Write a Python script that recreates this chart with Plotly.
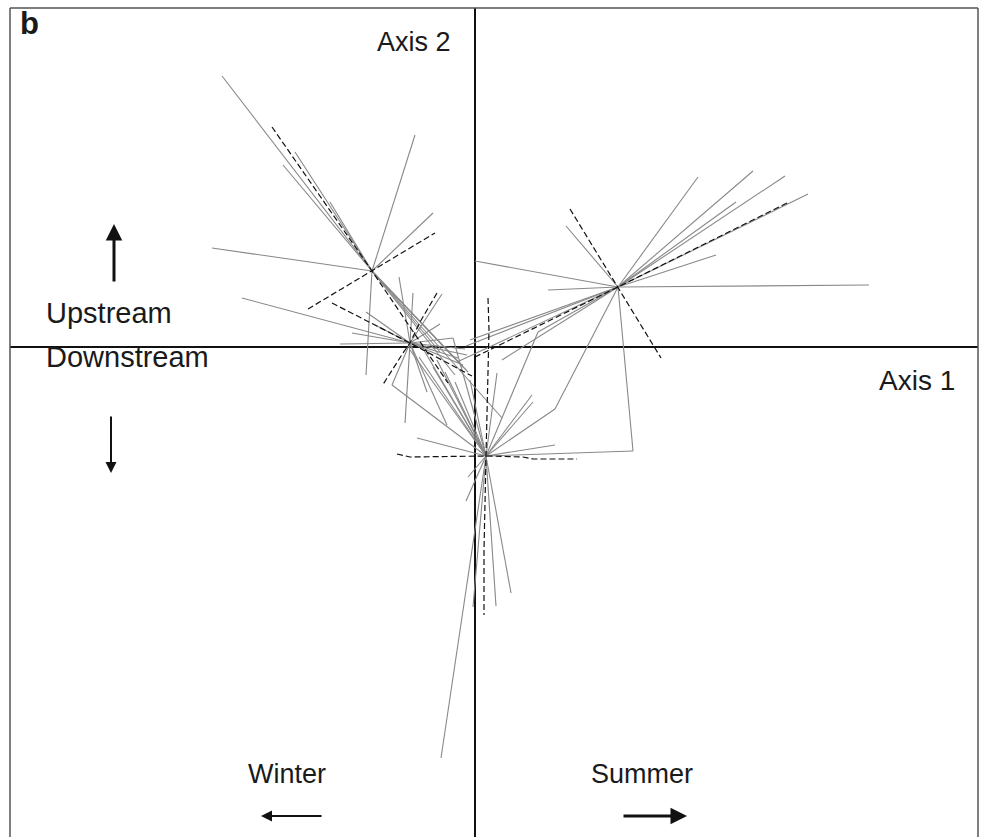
import plotly.graph_objects as go

# ---- group centroids (Axis 1, Axis 2 scores) ----
centre_names = ["A", "B", "C", "D"]
centre_x = [-1.03, -0.65, 1.43, 0.11]
centre_y = [0.76, 0.04, 0.60, -1.09]

# ---- sample scores linked to each centroid ----
a_x = [-2.53, -1.80, -1.92, -1.45, -0.60, -0.42, -2.63, -1.09, 0.27, -0.07, -0.35, -0.20, -0.12]
a_y = [2.71, 1.95, 1.82, 1.45, 2.12, 1.34, 0.99, -0.28, -0.71, -0.25, -0.05, -0.28, -0.20]

b_x = [-2.33, -1.35, -1.23, -1.09, -0.76, -0.62, -0.33, -0.35, -0.22, -0.70, -0.28, -0.12, -0.08, -0.83, -0.17,
       -0.48, -0.10, -1.00]
b_y = [0.49, 0.03, 0.14, 0.35, 0.70, 0.54, 0.53, 0.23, 0.09, -0.76, -0.78, -0.18, -0.08, -0.38, -0.11,
       -0.45, -0.02, 0.22]

c_x = [2.23, 2.78, 3.10, 2.61, 3.33, 2.41, 3.94, 0.73, 0.00, 0.91, 0.80, 1.58, -0.09, -0.18, 0.27, 0.63, -0.05]
c_y = [1.70, 1.76, 1.71, 1.45, 1.53, 0.92, 0.62, 0.57, 0.86, 1.21, -0.62, -1.04, 0.01, -0.15, -0.13, 0.15, 0.07]

d_x = [-0.58, -0.83, -0.65, -0.50, -0.38, -0.30, -0.20, -0.05, -0.22, 0.22, 0.63, 0.80, 1.58,
       0.57, 0.58, 0.80, -0.07, -0.09, -0.34, -0.02, 0.21, 0.36, -0.56, -0.42]
d_y = [-0.91, -0.38, -0.03, -0.05, -0.13, -0.25, -0.35, -0.33, 0.09, -0.26, 0.15, -0.62, -1.04,
       -0.48, -0.55, -0.98, -1.30, -1.54, -4.11, -2.60, -2.59, -2.46, -0.10, -0.20]

# ---- dashed ellipse axes (polylines) ----
axes_a1_x = [-2.03, -1.03, -0.27]; axes_a1_y = [2.20, 0.76, -0.36]
axes_a2_x = [-1.67, -1.03, -0.40]; axes_a2_y = [0.38, 0.76, 1.14]
axes_b1_x = [-1.43, -0.65, -0.03]; axes_b1_y = [0.44, 0.04, -0.29]
axes_b2_x = [-0.38, -0.55, -0.65, -0.72, -0.93]; axes_b2_y = [0.54, 0.25, 0.04, -0.06, -0.39]
axes_c1_x = [3.12, 1.43, -0.02]; axes_c1_y = [1.44, 0.60, -0.11]
axes_c2_x = [0.95, 1.43, 1.86]; axes_c2_y = [1.38, 0.60, -0.11]
axes_d1_x = [-0.78, -0.65, 0.11, 0.48, 0.58, 1.02]; axes_d1_y = [-1.07, -1.10, -1.09, -1.10, -1.12, -1.12]
axes_d2_x = [0.13, 0.14, 0.11, 0.09, 0.09]; axes_d2_y = [0.49, 0.17, -1.09, -2.03, -2.68]

W, H = 986, 837
X_RANGE = [-4.75, 5.11]
Y_RANGE = [-4.90, 3.47]

fig = go.Figure()

# gray spokes
sx, sy = [], []
for ci, (px, py) in enumerate([(a_x, a_y), (b_x, b_y), (c_x, c_y), (d_x, d_y)]):
    for x, y in zip(px, py):
        sx += [centre_x[ci], x, None]
        sy += [centre_y[ci], y, None]
fig.add_trace(go.Scatter(x=sx, y=sy, mode="lines",
                         line=dict(color="#888888", width=1.1), hoverinfo="skip", showlegend=False))

# dashed axes
dx, dy = [], []
for xs, ys in [(axes_a1_x, axes_a1_y), (axes_a2_x, axes_a2_y), (axes_b1_x, axes_b1_y),
               (axes_b2_x, axes_b2_y), (axes_c1_x, axes_c1_y), (axes_c2_x, axes_c2_y),
               (axes_d1_x, axes_d1_y), (axes_d2_x, axes_d2_y)]:
    dx += list(xs) + [None]
    dy += list(ys) + [None]
fig.add_trace(go.Scatter(x=dx, y=dy, mode="lines",
                         line=dict(color="#111111", width=1.2, dash="6px,3px"),
                         hoverinfo="skip", showlegend=False))

def px2paper(x, y):
    return x / W, 1 - y / H

fl, ft = px2paper(10, 8)
fr, _ = px2paper(978, 8)
shapes = [
    dict(type="line", xref="paper", yref="paper", x0=fl, x1=fl, y0=-0.02, y1=ft, line=dict(color="#555", width=1.5)),
    dict(type="line", xref="paper", yref="paper", x0=fl, x1=fr, y0=ft, y1=ft, line=dict(color="#555", width=1.5)),
    dict(type="line", xref="paper", yref="paper", x0=fr, x1=fr, y0=-0.02, y1=ft, line=dict(color="#555", width=1.5)),
    dict(type="line", xref="x", yref="paper", x0=0, x1=0, y0=-0.02, y1=ft, line=dict(color="#111", width=2), layer="below"),
    dict(type="line", xref="paper", yref="y", x0=fl, x1=fr, y0=0, y1=0, line=dict(color="#111", width=2), layer="below"),
]

FONT = "Liberation Sans, Arial, Helvetica, sans-serif"
def label(text, x, y, xanchor="left", size=27, bold=False):
    px_, py_ = px2paper(x, y)
    return dict(text=("<b>%s</b>" % text) if bold else text, x=px_, y=py_, xref="paper", yref="paper",
                xanchor=xanchor, yanchor="middle", showarrow=False,
                font=dict(family=FONT, size=size, color="#1a1a1a"))

def arrow(hx, hy, tx, ty, width):
    px_, py_ = px2paper(hx, hy)
    return dict(text="", x=px_, y=py_, xref="paper", yref="paper", ax=tx - hx, ay=ty - hy,
                showarrow=True, arrowhead=2, arrowsize=1.1, arrowwidth=width, arrowcolor="#111",
                standoff=0, startstandoff=0)

annotations = [
    label("b", 18, 23, size=31, bold=True),
    label("Axis 2", 453, 42, xanchor="right"),
    label("Upstream", 44, 313, size=29),
    label("Downstream", 44, 357, size=29),
    label("Axis 1", 877, 381, size=28),
    label("Winter", 246, 774),
    label("Summer", 589, 774),
    arrow(114, 224, 114, 283, 3),
    arrow(111, 473, 111, 415, 2),
    arrow(261, 816, 323, 816, 2),
    arrow(687, 816, 622, 816, 3),
]

fig.update_layout(
    width=W, height=H, margin=dict(l=0, r=0, t=0, b=0),
    paper_bgcolor="white", plot_bgcolor="white",
    xaxis=dict(range=X_RANGE, visible=False, fixedrange=True),
    yaxis=dict(range=Y_RANGE, visible=False, fixedrange=True),
    shapes=shapes, annotations=annotations, showlegend=False,
)

fig.write_html("out.html", config={"displayModeBar": False},
               post_script="document.body.style.margin='0';document.body.style.overflow='hidden';")
